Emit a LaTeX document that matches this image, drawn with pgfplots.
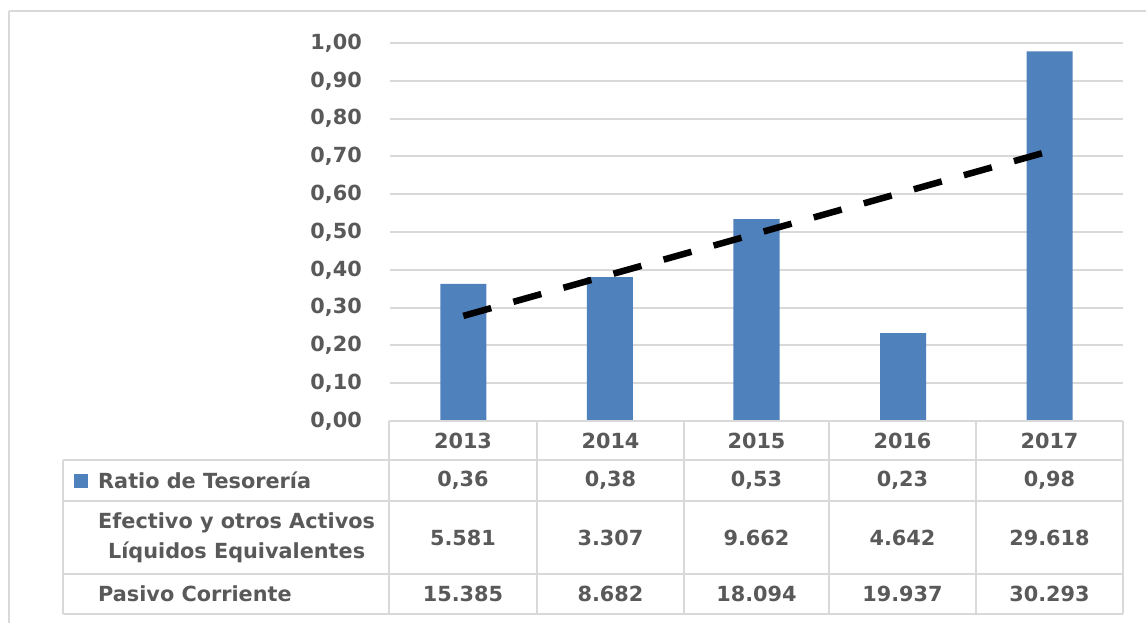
\documentclass[border=0pt]{standalone}
\usepackage{pgfplots}
\pgfplotsset{compat=1.18}
\usepackage{fontspec}
\setmainfont{DejaVu Sans}
\definecolor{barblue}{HTML}{4F81BD}
\definecolor{gridgray}{HTML}{D9D9D9}
\definecolor{txt}{HTML}{595959}
\newcommand{\tf}{\bfseries\fontsize{20.8}{30}\selectfont}
\begin{document}
\begin{tikzpicture}[x=1pt,y=1pt]
\useasboundingbox (-390,-201) rectangle (756,421);
\draw[gridgray, line width=2pt] (-381,410) -- (770,410);
\draw[gridgray, line width=2pt] (-381,410) -- (-381,-210);
\begin{axis}[at={(0,0)}, anchor=south west, scale only axis,
  width=733pt, height=378pt,
  xmin=-0.5, xmax=4.5, ymin=0, ymax=1,
  xtick=\empty,
  ytick={0,0.1,0.2,0.3,0.4,0.5,0.6,0.7,0.8,0.9,1},
  axis line style={draw=none}, major tick length=0pt,
  ymajorgrids, grid style={gridgray, line width=2pt},
  /pgf/number format/assume math mode=true,
  yticklabel style={font=\tf, text=txt, anchor=east, inner sep=0pt, xshift=-28pt,
    /pgf/number format/.cd, fixed, fixed zerofill, precision=2, use comma},
  clip=false]
\addplot[ybar, bar width=46pt, fill=barblue, draw=none]
  coordinates {(0,0.3628) (1,0.3809) (2,0.5340) (3,0.2328) (4,0.9777)};
\addplot[black, line width=6.5pt, dash pattern=on 29pt off 23pt, no markers]
  coordinates {(0,0.278) (4,0.714)};
\end{axis}
% data table
\begin{scope}[gridgray, line width=2pt]
\foreach \x in {-1,147,294,439,586,733} \draw (\x,0) -- (\x,-193);
\draw (-1,0) -- (733,0);
\foreach \y in {-39,-80,-153,-193} \draw (-327,\y) -- (733,\y);
\draw (-327,-39) -- (-327,-193);
\end{scope}
\fill[barblue] (-316,-53) rectangle (-302,-67);
\begin{scope}[every node/.style={font=\tf, text=txt, inner sep=0pt}]
\node[anchor=west] at (-292,-59.5) {Ratio de Tesorería};
\node[anchor=west, align=center] at (-292,-116.5) {Efectivo y otros Activos\\Líquidos Equivalentes};
\node[anchor=west] at (-292,-173) {Pasivo Corriente};
\foreach \x/\a/\b/\c/\d in {73/2013/{0,36}/5.581/15.385, 220.5/2014/{0,38}/3.307/8.682, 366.5/2015/{0,53}/9.662/18.094, 512.5/2016/{0,23}/4.642/19.937, 659.5/2017/{0,98}/29.618/30.293}{
  \node at (\x,-19.5) {\a};
  \node at (\x,-59.5) {\b};
  \node at (\x,-116.5) {\c};
  \node at (\x,-173) {\d};
}
\end{scope}
\end{tikzpicture}
\end{document}
